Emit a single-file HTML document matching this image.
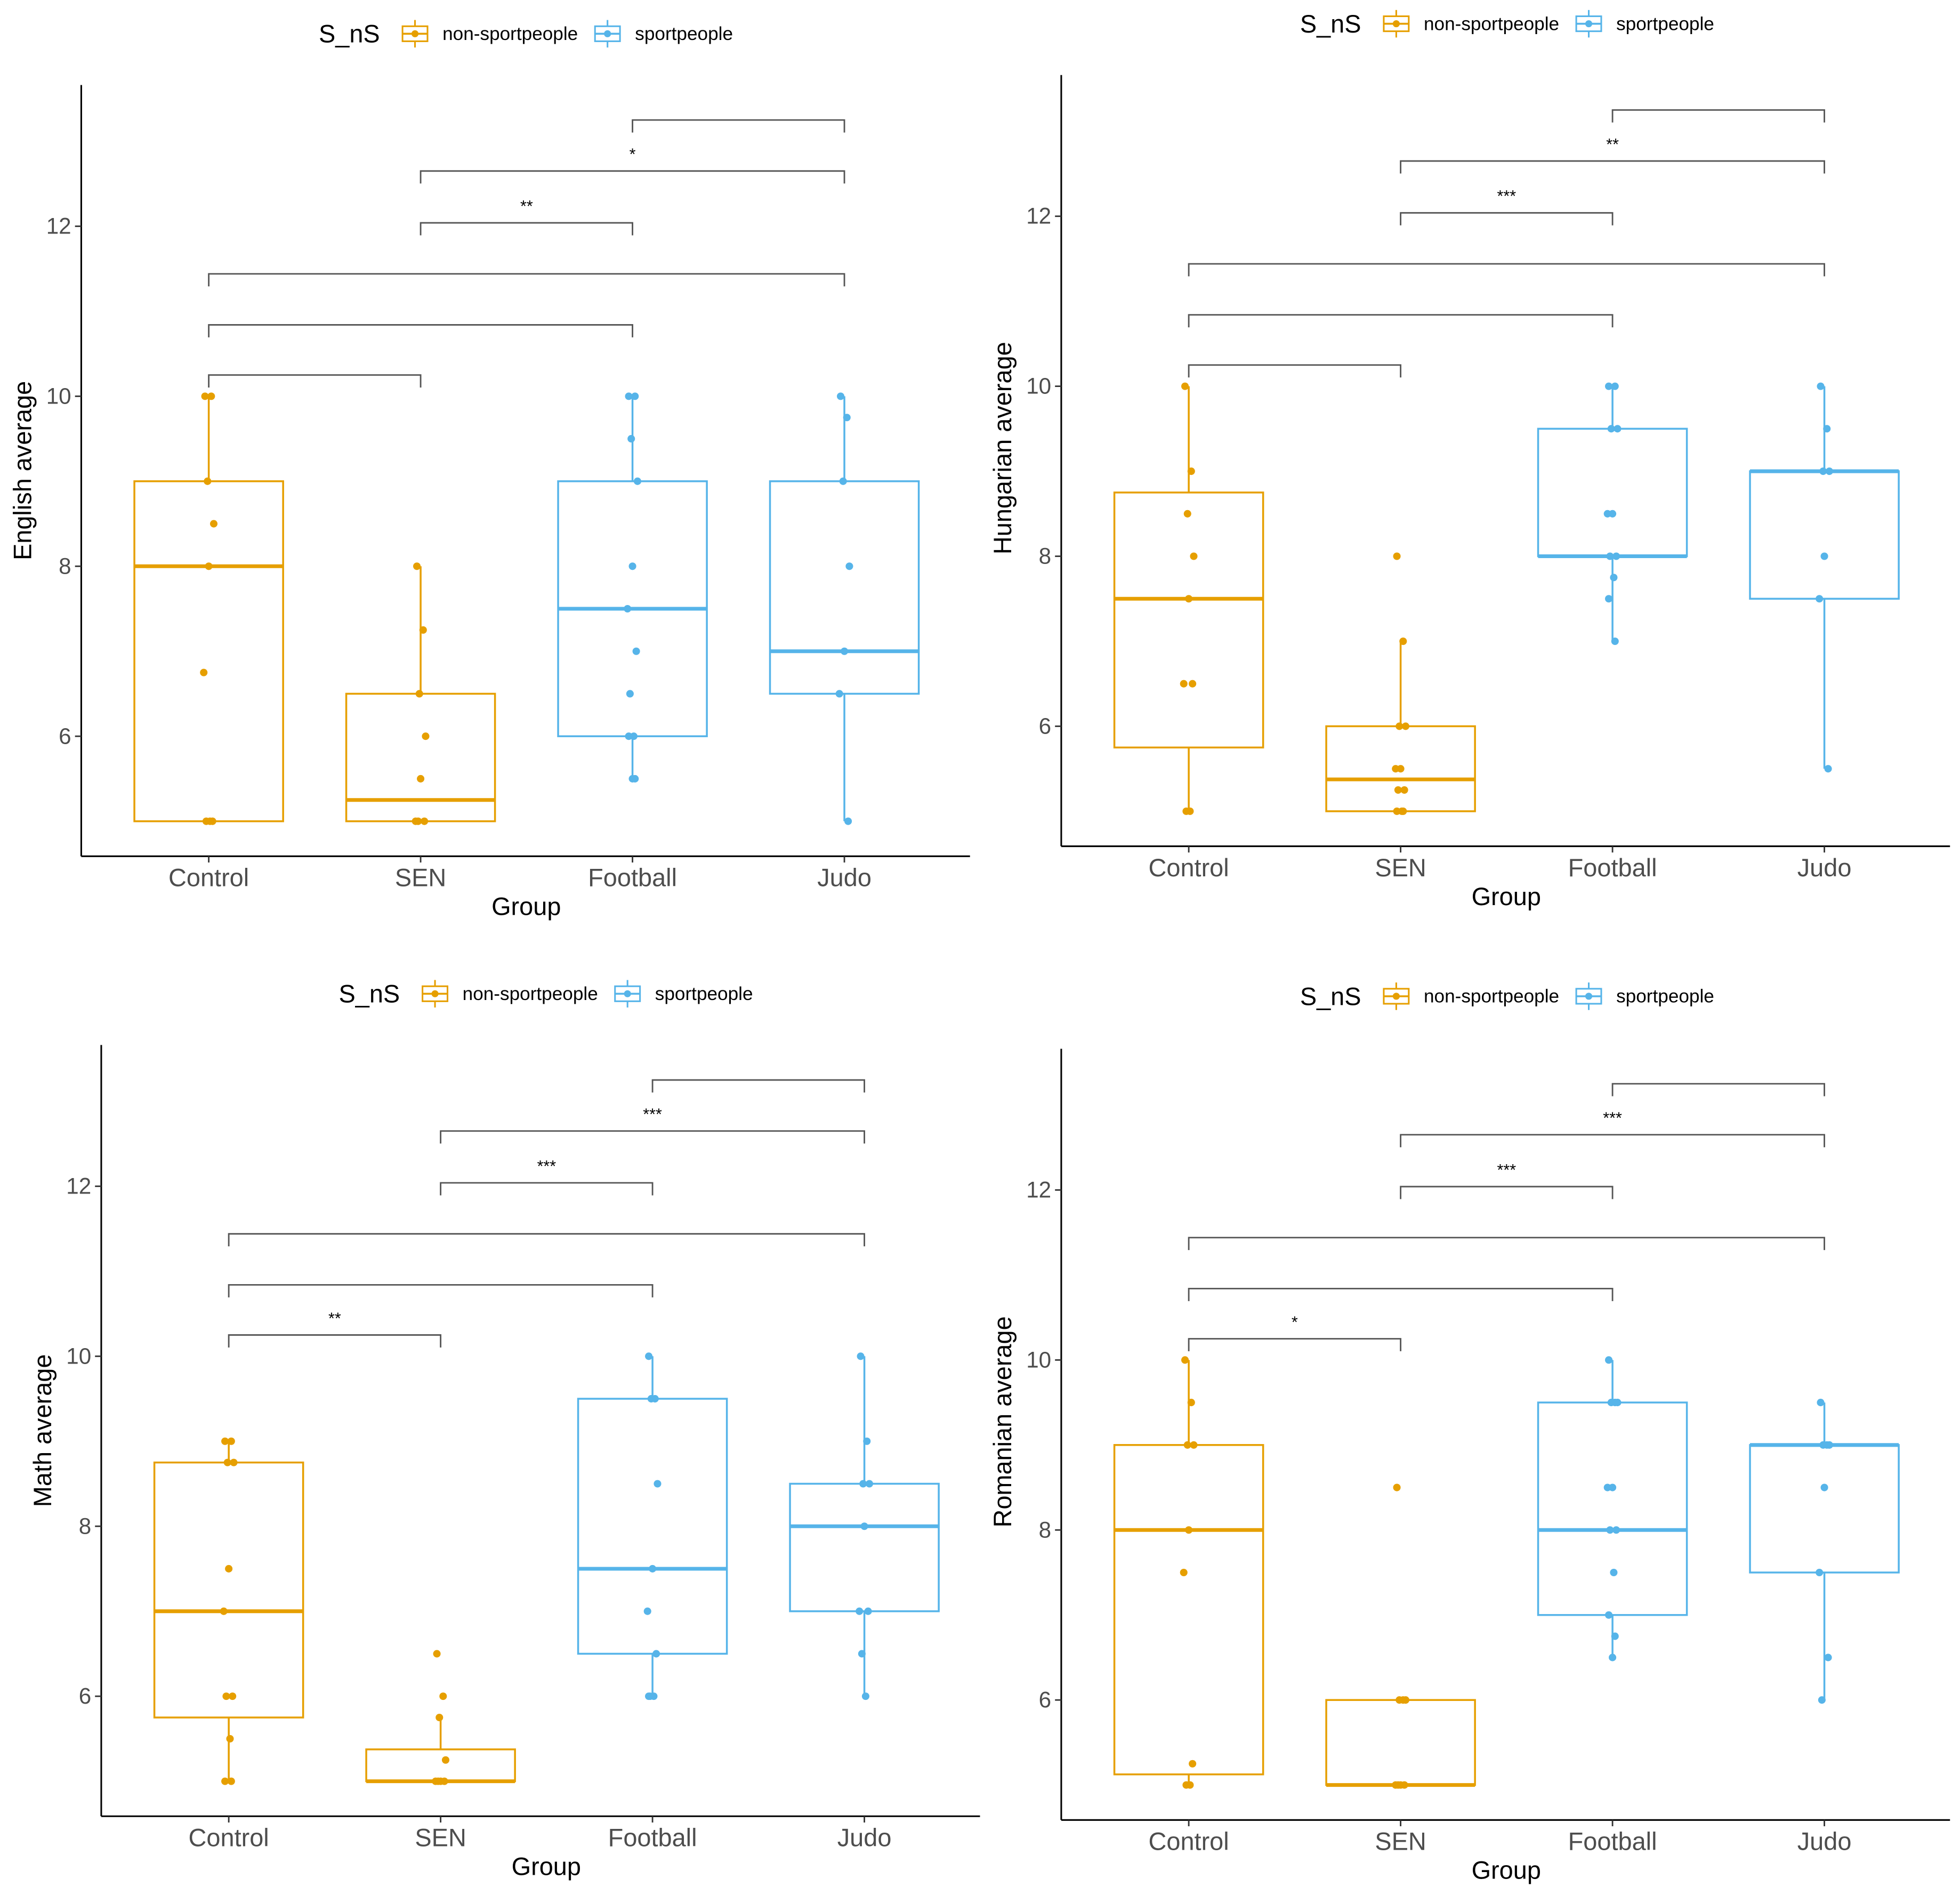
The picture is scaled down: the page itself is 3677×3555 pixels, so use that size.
<!DOCTYPE html>
<html><head><meta charset="utf-8"><style>
html,body{margin:0;padding:0;background:#fff}
svg{display:block}
text{font-family:"Liberation Sans",Arial,sans-serif}
</style></head><body>
<svg id="chart" width="3677" height="3555" viewBox="0 0 1568 1516" preserveAspectRatio="none" xmlns="http://www.w3.org/2000/svg"></svg>
<script>
const categories = ["Control","SEN","Football","Judo"];
const catColor = ["#E69F00","#E69F00","#56B4E9","#56B4E9"];
const yTicks = [6,8,10,12];
const panelTitles = ["English average","Hungarian average","Math average","Romanian average"];
// box stats per category: [whiskerLo, q1, median, q3, whiskerHi]
const englishBoxes = [[5,5,8,9,10],[5,5,5.25,6.5,8],[5.5,6,7.5,9,10],[5,6.5,7,9,10]];
const englishPoints = [[10,10,9,8.5,8,6.75,5,5,5],[8,7.25,6.5,6,5.5,5,5,5],[10,10,9.5,9,8,7.5,7,6.5,6,6,5.5,5.5],[10,9.75,9,8,7,6.5,5]];
const hungarianBoxes = [[5,5.75,7.5,8.75,10],[5,5,5.375,6,7],[7,8,8,9.5,10],[5.5,7.5,9,9,10]];
const hungarianPoints = [[10,9,8.5,8,7.5,6.5,6.5,5,5],[8,7,6,6,5.5,5.5,5.25,5.25,5,5,5],[10,10,9.5,9.5,8.5,8.5,8,8,7.75,7.5,7],[10,9.5,9,9,8,7.5,5.5]];
const mathBoxes = [[5,5.75,7,8.75,9],[5,5,5,5.375,5.75],[6,6.5,7.5,9.5,10],[6,7,8,8.5,10]];
const mathPoints = [[9,9,8.75,8.75,7.5,7,6,6,5.5,5,5],[6.5,6,5.75,5.25,5,5,5,5],[10,9.5,9.5,8.5,7.5,7,6.5,6,6,6],[10,9,8.5,8.5,8,7,7,6.5,6]];
const romanianBoxes = [[5,5.125,8,9,10],[5,5,5,6,6],[6.5,7,8,9.5,10],[6,7.5,9,9,9.5]];
const romanianPoints = [[10,9.5,9,9,8,7.5,5.25,5,5],[8.5,6,6,6,5,5,5,5],[10,9.5,9.5,9.5,8.5,8.5,8,8,7.5,7,6.75,6.5],[9.5,9,9,9,8.5,7.5,6.5,6]];
// brackets: [fromCat, toCat, yValue, label]
const englishBrackets = [[0,1,10.25,""],[0,2,10.84,""],[0,3,11.44,""],[1,2,12.04,"**"],[1,3,12.65,"*"],[2,3,13.25,""]];
const hungarianBrackets = [[0,1,10.25,""],[0,2,10.84,""],[0,3,11.44,""],[1,2,12.04,"***"],[1,3,12.65,"**"],[2,3,13.25,""]];
const mathBrackets = [[0,1,10.25,"**"],[0,2,10.84,""],[0,3,11.44,""],[1,2,12.04,"***"],[1,3,12.65,"***"],[2,3,13.25,""]];
const romanianBrackets = [[0,1,10.25,"*"],[0,2,10.84,""],[0,3,11.44,""],[1,2,12.04,"***"],[1,3,12.65,"***"],[2,3,13.25,""]];

const panels = [
 {x0:65,yTop:68,yAx:685,xR:776,y6:589,leg:[255,27],ytx:18,gx:421,gy:726,boxes:englishBoxes,pts:englishPoints,br:englishBrackets,name:"english"},
 {x0:849,yTop:60,yAx:677,xR:1560,y6:581,leg:[1040,19],ytx:802,gx:1205,gy:718,boxes:hungarianBoxes,pts:hungarianPoints,br:hungarianBrackets,name:"hungarian"},
 {x0:81,yTop:836,yAx:1453,xR:784,y6:1357,leg:[271,795],ytx:34,gx:437,gy:1494,boxes:mathBoxes,pts:mathPoints,br:mathBrackets,name:"math"},
 {x0:849,yTop:839,yAx:1456,xR:1560,y6:1360,leg:[1040,797],ytx:802,gx:1205,gy:1497,boxes:romanianBoxes,pts:romanianPoints,br:romanianBrackets,name:"romanian"}
];
const NS="http://www.w3.org/2000/svg";
const svg=document.getElementById('chart');
function mk(tag,attrs,parent,txt){const e=document.createElementNS(NS,tag);for(const k in attrs)e.setAttribute(k,attrs[k]);if(txt!==undefined)e.textContent=txt;parent.appendChild(e);return e;}
const jit=[-3,2,-1,4,0,-4,3,-2,1,-3,2,0];
panels.forEach((p,pi)=>{
 const g=mk('g',{},svg);
 
 
 const yS=v=>p.y6-(v-6)*68;
 const xS=i=>p.x0+102+i*169.5;
 const lg=mk('g',{},g);
 
 
 const lx=p.leg[0], ly=p.leg[1];
 mk('text',{x:lx,y:ly+7,'font-size':20,fill:'#000'},lg,'S_nS');
 [[67,99,'#E69F00','non-sportpeople'],[221,253,'#56B4E9','sportpeople']].forEach(k=>{
  const e=mk('g',{},lg);
  
  
  mk('line',{x1:lx+k[0]+10,x2:lx+k[0]+10,y1:ly-11,y2:ly+11,stroke:k[2],'stroke-width':1.3},e);
  mk('rect',{x:lx+k[0],y:ly-6,width:20,height:12,fill:'#fff',stroke:k[2],'stroke-width':1.3},e);
  mk('line',{x1:lx+k[0],x2:lx+k[0]+20,y1:ly,y2:ly,stroke:k[2],'stroke-width':1.5},e);
  mk('circle',{cx:lx+k[0]+10,cy:ly,r:2.8,fill:k[2]},e);
  mk('text',{x:lx+k[1],y:ly+5,'font-size':15,fill:'#000'},e,k[3]);
 });
 const ax=mk('line',{x1:p.x0,x2:p.x0,y1:p.yTop,y2:p.yAx,stroke:'#000','stroke-width':1.3},g);
 
 
 const axx=mk('line',{x1:p.x0,x2:p.xR,y1:p.yAx,y2:p.yAx,stroke:'#000','stroke-width':1.3},g);
 
 
 yTicks.forEach(t=>{
  mk('line',{x1:p.x0-5,x2:p.x0,y1:yS(t),y2:yS(t),stroke:'#333','stroke-width':1.2},g);
  const tl=mk('text',{x:p.x0-8,y:yS(t)+6,'font-size':18,fill:'#4d4d4d','text-anchor':'end'},g,String(t));
  
  
 });
 categories.forEach((c,i)=>{
  mk('line',{x1:xS(i),x2:xS(i),y1:p.yAx,y2:p.yAx+5,stroke:'#333','stroke-width':1.2},g);
  const cl=mk('text',{x:xS(i),y:p.yAx+24,'font-size':20,fill:'#4d4d4d','text-anchor':'middle'},g,c);
  
  
 });
 const gt=mk('text',{x:p.gx,y:p.gy+6,'font-size':20,fill:'#000','text-anchor':'middle'},g,'Group');
 
 
 const cy=(p.yTop+p.yAx)/2+ (pi%2?-10:0);
 const yt=mk('text',{x:p.ytx,y:cy,'font-size':20,fill:'#000','text-anchor':'middle',transform:`rotate(-90 ${p.ytx} ${cy})`,dy:7},g,panelTitles[pi]);
 
 
 p.boxes.forEach((b,i)=>{
  const col=catColor[i], cx=xS(i), hw=59.5;
  const bg=mk('g',{},g);
  
  
  if(b[4]>b[3]) mk('line',{x1:cx,x2:cx,y1:yS(b[3]),y2:yS(b[4]),stroke:col,'stroke-width':1.5},bg);
  if(b[1]>b[0]) mk('line',{x1:cx,x2:cx,y1:yS(b[1]),y2:yS(b[0]),stroke:col,'stroke-width':1.5},bg);
  mk('rect',{x:cx-hw,y:yS(b[3]),width:2*hw,height:yS(b[1])-yS(b[3]),fill:'#fff',stroke:col,'stroke-width':1.5},bg);
  mk('line',{x1:cx-hw,x2:cx+hw,y1:yS(b[2]),y2:yS(b[2]),stroke:col,'stroke-width':3},bg);
  p.pts[i].forEach((v,j)=>{
   const d=mk('circle',{cx:cx+jit[j%jit.length],cy:yS(v),r:3,fill:col},bg);
   
   
  });
 });
 p.br.forEach(b=>{
  const bg=mk('g',{},g);
  
  
  const x1=xS(b[0]),x2=xS(b[1]),y=yS(b[2]);
  mk('path',{d:`M${x1},${y+10}V${y}H${x2}V${y+10}`,fill:'none',stroke:'#555','stroke-width':1.2},bg);
  if(b[3]) mk('text',{x:(x1+x2)/2,y:y-9,'font-size':13,fill:'#000','text-anchor':'middle'},bg,b[3]);
 });
});
</script>
</body></html>
